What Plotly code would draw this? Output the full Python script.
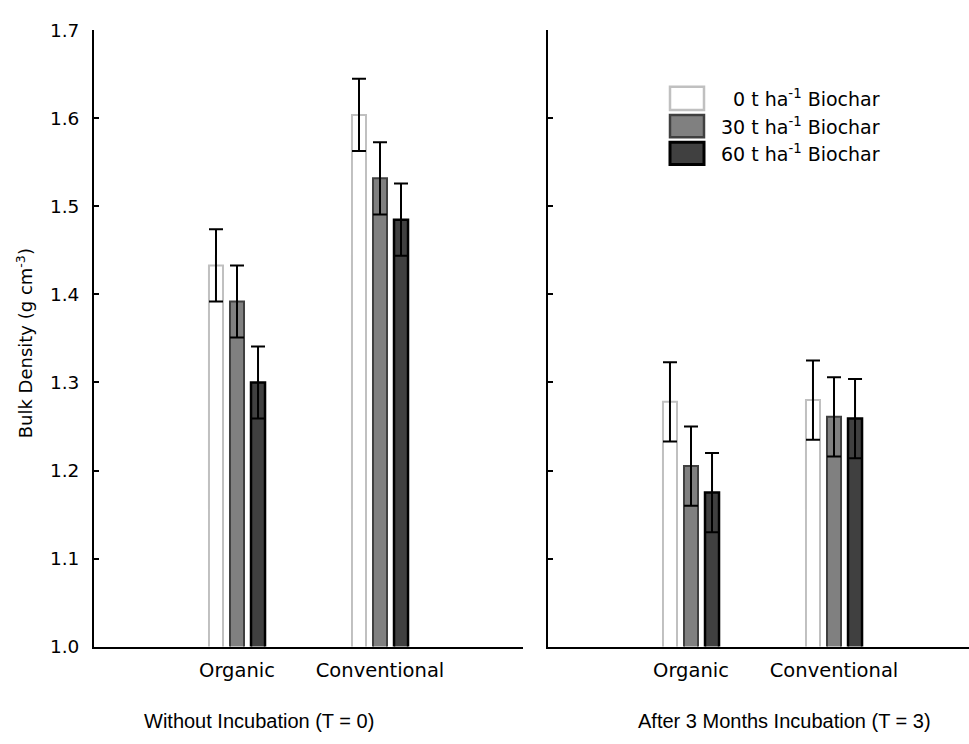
import plotly.graph_objects as go

categories = ["Organic", "Conventional"]
series_names = ["0 t ha<sup>-1</sup> Biochar", "30 t ha<sup>-1</sup> Biochar", "60 t ha<sup>-1</sup> Biochar"]

# Without incubation (T = 0)
t0_values = [[1.433, 1.604], [1.392, 1.532], [1.300, 1.485]]
t0_errors = [[0.041, 0.041], [0.041, 0.041], [0.041, 0.041]]
# After 3 months incubation (T = 3)
t3_values = [[1.278, 1.280], [1.205, 1.261], [1.175, 1.259]]
t3_errors = [[0.045, 0.045], [0.045, 0.045], [0.045, 0.045]]

y_ticks = [1.0, 1.1, 1.2, 1.3, 1.4, 1.5, 1.6, 1.7]
panel_titles = ["Without Incubation (T = 0)", "After 3 Months Incubation (T = 3)"]

fills = ["#ffffff", "#808080", "#404040"]
edges = ["#c0c0c0", "#404040", "#000000"]
edge_w = [2, 2, 2.5]

W, H = 969, 744
FONT = "DejaVu Sans, Liberation Sans, Arial, sans-serif"

fig = go.Figure()
for panel, (vals, errs) in enumerate([(t0_values, t0_errors), (t3_values, t3_errors)]):
    xa = "x" if panel == 0 else "x2"
    ya = "y" if panel == 0 else "y2"
    for i in range(3):
        fig.add_trace(go.Bar(
            x=categories, y=vals[i], name=series_names[i],
            marker=dict(color=fills[i], line=dict(color=edges[i], width=edge_w[i])),
            error_y=dict(type="data", array=errs[i], visible=True, color="#000000",
                         thickness=2, width=7),
            xaxis=xa, yaxis=ya, showlegend=False,
        ))

def px_x(p):
    return p / W

def px_y(p):
    return 1 - p / H

y_bottom = px_y(654)
y_top = px_y(20)

axis_common = dict(showline=True, linecolor="#000000", linewidth=2, showgrid=False,
                   zeroline=False, fixedrange=True)

fig.update_layout(
    width=W, height=H, margin=dict(l=0, r=0, t=0, b=0),
    paper_bgcolor="#ffffff", plot_bgcolor="#ffffff",
    barmode="group", bargap=0.559, bargroupgap=0.333,
    showlegend=False,
    font=dict(family=FONT, color="#000000", size=18),
    xaxis=dict(domain=[px_x(94), px_x(523)], range=[-1, 2], type="category",
               ticks="", tickfont=dict(size=19.5), ticklabelstandoff=5, anchor="y", **axis_common),
    xaxis2=dict(domain=[px_x(548), 1.0], range=[-1, 1.944], type="category",
                ticks="", tickfont=dict(size=19.5), ticklabelstandoff=5, anchor="y2", **axis_common),
    yaxis=dict(domain=[y_bottom, y_top], range=[1.0, 1.7], tickvals=y_ticks,
               tickformat=".1f", ticks="inside", ticklen=5, tickwidth=2, tickcolor="#000000",
               tickfont=dict(size=18.5), ticklabelstandoff=9, anchor="x", **axis_common),
    yaxis2=dict(domain=[y_bottom, y_top], range=[1.0, 1.7], tickvals=y_ticks,
                showticklabels=False, ticks="inside", ticklen=5, tickwidth=2, tickcolor="#000000",
                anchor="x2", **axis_common),
)

# y-axis title
fig.add_annotation(text="Bulk Density (g cm<sup>-3</sup>)", xref="paper", yref="paper",
                   x=px_x(25), y=px_y(342), textangle=-90, showarrow=False,
                   font=dict(size=18), xanchor="center", yanchor="middle")

# panel titles
title_font = dict(family="Liberation Sans, Arial, sans-serif", size=20)
fig.add_annotation(text=panel_titles[0], xref="paper", yref="paper", x=px_x(259), y=px_y(731),
                   showarrow=False, font=title_font, xanchor="center", yanchor="middle")
fig.add_annotation(text=panel_titles[1], xref="paper", yref="paper", x=px_x(784), y=px_y(731),
                   showarrow=False, font=title_font, xanchor="center", yanchor="middle")

# manual legend
leg_rows = [(78, 102), (107, 130), (135, 158)]
for i, (t, b) in enumerate(leg_rows):
    fig.add_shape(type="rect", xref="paper", yref="paper",
                  x0=px_x(670), x1=px_x(704), y0=px_y(b), y1=px_y(t),
                  fillcolor=fills[i], line=dict(color=edges[i], width=edge_w[i] + 0.5))
    fig.add_annotation(text=series_names[i] if i else "\u00a0" + series_names[i],
                       xref="paper", yref="paper", x=px_x(882), y=px_y((t + b) / 2),
                       showarrow=False, xanchor="right", yanchor="middle", font=dict(size=19))

fig.write_html("out.html")
